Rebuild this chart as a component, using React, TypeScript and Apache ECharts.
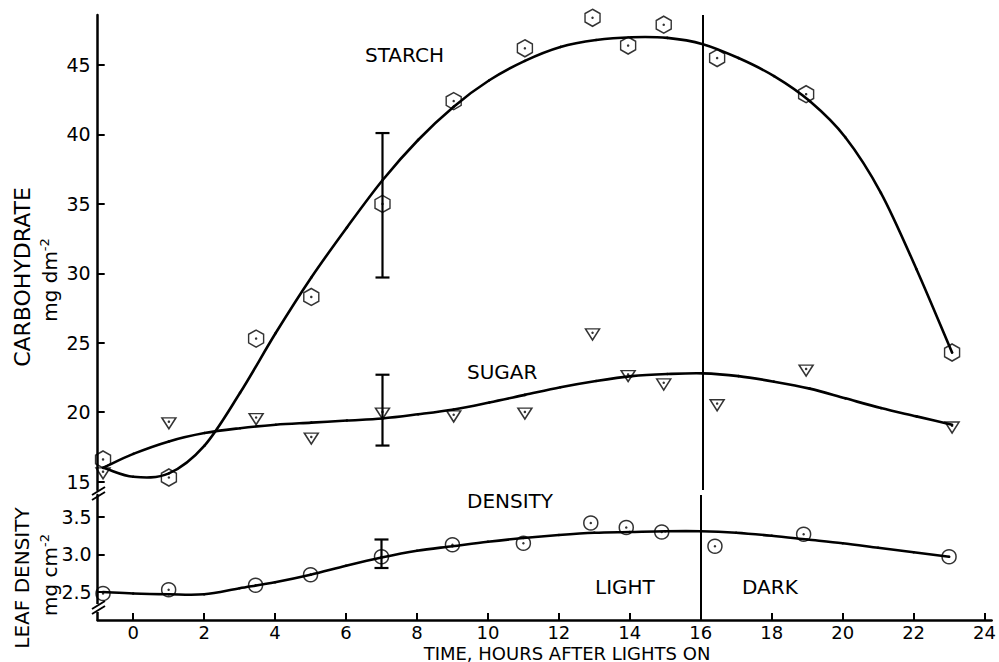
import React, { useEffect, useRef } from "react";
import * as echarts from "echarts";

// ---- data ----
const times = [-0.85, 1, 3.45, 5, 7, 9, 11, 12.9, 13.9, 14.9, 16.4, 18.9, 23];
const starch = [16.6, 15.3, 25.3, 28.3, 35.0, 42.4, 46.2, 48.4, 46.4, 47.9, 45.5, 42.9, 24.3];
const sugar = [15.6, 19.2, 19.5, 18.1, 19.9, 19.7, 19.9, 25.6, 22.6, 22.0, 20.5, 23.0, 18.9];
const density = [2.48, 2.53, 2.59, 2.73, 2.97, 3.13, 3.15, 3.42, 3.36, 3.3, 3.11, 3.27, 2.97];

// fitted curves (hourly)
const curveTimes = [-0.85, 0, 1, 2, 3, 4, 5, 6, 7, 8, 9, 10, 11, 12, 13, 14, 15, 16, 17, 18, 19, 20, 21, 22, 23];
const starchCurve = [16.0, 15.35, 15.6, 17.6, 21.4, 25.7, 29.7, 33.3, 36.7, 39.6, 42.0, 43.9, 45.3, 46.3, 46.8, 47.0, 46.95, 46.5, 45.5, 44.2, 42.4, 39.8, 35.8, 30.3, 24.3];
const sugarCurve = [16.0, 17.0, 17.9, 18.5, 18.85, 19.1, 19.25, 19.4, 19.55, 19.85, 20.2, 20.7, 21.25, 21.8, 22.25, 22.6, 22.75, 22.8, 22.6, 22.2, 21.7, 21.0, 20.3, 19.7, 19.1];
const densityCurve = [2.5, 2.48, 2.47, 2.47, 2.55, 2.63, 2.73, 2.85, 2.96, 3.05, 3.11, 3.17, 3.22, 3.26, 3.29, 3.3, 3.31, 3.31, 3.29, 3.25, 3.2, 3.15, 3.09, 3.03, 2.97];

// error bars: [time, low, high]
const carbErrors = [
  [7, 29.7, 40.1],
  [7, 17.6, 22.7],
];
const densityErrors = [[7, 2.82, 3.2]];

const lightsOff = 16;

const xTicks = [0, 2, 4, 6, 8, 10, 12, 14, 16, 18, 20, 22, 24];
const carbTicks = [15, 20, 25, 30, 35, 40, 45];
const densityTicks = [2.5, 3.0, 3.5];

const FONT = "DejaVu Sans";

const zip = (xs: number[], ys: number[]) => xs.map((x, i) => [x, ys[i]]);

const HEX = "path://M0,-1 L0.866,-0.5 L0.866,0.5 L0,1 L-0.866,0.5 L-0.866,-0.5 Z";
const TRI = "path://M0,0 L10,0 L5,8 Z";

export default function App() {
  const ref = useRef<HTMLDivElement>(null);

  useEffect(() => {
    document.body.style.margin = "0";
    if (!ref.current) return;
    const chart = echarts.init(ref.current, null, { renderer: "svg" });

    const axisLineStyle = { color: "#000", width: 2.5 };
    const labelStyle = { color: "#000", fontSize: 19, fontFamily: FONT };

    const errRender = (params: any, api: any) => {
      const x = api.value(0);
      const lo = api.value(1);
      const hi = api.value(2);
      const p1 = api.coord([x, hi]);
      const p2 = api.coord([x, lo]);
      const w = 7;
      const st = { stroke: "#000", lineWidth: 2.2 };
      return {
        type: "group",
        children: [
          { type: "line", shape: { x1: p1[0], y1: p1[1], x2: p2[0], y2: p2[1] }, style: st },
          { type: "line", shape: { x1: p1[0] - w, y1: p1[1], x2: p1[0] + w, y2: p1[1] }, style: st },
          { type: "line", shape: { x1: p2[0] - w, y1: p2[1], x2: p2[0] + w, y2: p2[1] }, style: st },
        ],
      };
    };

    const vline = {
      silent: true,
      symbol: "none",
      label: { show: false },
      lineStyle: { color: "#000", width: 2, type: "solid" },
      data: [{ xAxis: lightsOff }],
    };

    const markerStyle = { color: "transparent", borderColor: "#000", borderWidth: 1.5 };
    const dot = (data: number[][], xi: number, yi: number) => ({
      type: "scatter",
      xAxisIndex: xi,
      yAxisIndex: yi,
      data,
      symbol: "circle",
      symbolSize: 2.5,
      itemStyle: { color: "#000" },
      z: 6,
    });

    const starchPts = zip(times, starch);
    const sugarPts = zip(times, sugar);
    const densityPts = zip(times, density);

    const txt = (text: string, x: number, y: number, align = "left", extra: any = {}, size = 20) => ({
      type: "text",
      x,
      y,
      ...extra,
      style: {
        text,
        fill: "#000",
        fontSize: size,
        fontFamily: FONT,
        textAlign: align,
        textVerticalAlign: "middle",
      },
    });

    const rich = {
      a: { fontSize: 20, fontFamily: FONT, fill: "#000", lineHeight: 24 },
      s: { fontSize: 13, fontFamily: FONT, fill: "#000", verticalAlign: "top", lineHeight: 24 },
    };

    // smooth curve through knots drawn as Catmull-Rom Bezier segments in pixel space
    const curve = (ys: number[], xi: number, yi: number) => {
      const pts = zip(curveTimes, ys);
      return {
        type: "custom",
        xAxisIndex: xi,
        yAxisIndex: yi,
        data: pts,
        encode: { x: 0, y: 1 },
        z: 3,
        renderItem: (params: any, api: any) => {
          const i = params.dataIndex;
          const n = pts.length;
          if (i >= n - 1) return null;
          const P = (k: number) => api.coord(pts[Math.max(0, Math.min(n - 1, k))]);
          const p0 = P(i - 1), p1 = P(i), p2 = P(i + 1), p3 = P(i + 2);
          const m1 = i === 0 ? [p2[0] - p1[0], p2[1] - p1[1]] : [(p2[0] - p0[0]) / 2, (p2[1] - p0[1]) / 2];
          const m2 = i + 1 === n - 1 ? [p2[0] - p1[0], p2[1] - p1[1]] : [(p3[0] - p1[0]) / 2, (p3[1] - p1[1]) / 2];
          return {
            type: "bezierCurve",
            shape: {
              x1: p1[0], y1: p1[1],
              x2: p2[0], y2: p2[1],
              cpx1: p1[0] + m1[0] / 3, cpy1: p1[1] + m1[1] / 3,
              cpx2: p2[0] - m2[0] / 3, cpy2: p2[1] - m2[1] / 3,
            },
            style: { stroke: "#000", lineWidth: 2.6, fill: "none", lineCap: "round" },
          };
        },
      };
    };

    chart.setOption({
      animation: false,
      backgroundColor: "#fff",
      grid: [
        { left: 97.7, right: 4.2, top: 15, height: 475 },
        { left: 97.7, right: 4.2, top: 495, height: 125 },
      ],
      xAxis: [
        { gridIndex: 0, type: "value", min: -1, max: 24.2, show: false },
        {
          gridIndex: 1,
          type: "value",
          min: -1,
          max: 24.2,
          axisLine: { show: true, onZero: false, lineStyle: axisLineStyle },
          axisTick: { show: true, inside: true, length: 7, customValues: xTicks, lineStyle: { color: "#000", width: 2 } },
          axisLabel: { customValues: xTicks, margin: 3, ...labelStyle, fontSize: 18 },
          splitLine: { show: false },
        },
      ],
      yAxis: [
        {
          gridIndex: 0,
          type: "value",
          min: 14.4,
          max: 48.6,
          axisLine: { show: true, onZero: false, lineStyle: axisLineStyle },
          axisTick: { show: true, inside: true, length: 7, customValues: carbTicks, lineStyle: { color: "#000", width: 2 } },
          axisLabel: { customValues: carbTicks, margin: 7, ...labelStyle },
          splitLine: { show: false },
        },
        {
          gridIndex: 1,
          type: "value",
          min: 2.127,
          max: 3.793,
          axisLine: { show: true, onZero: false, lineStyle: axisLineStyle },
          axisTick: { show: true, inside: true, length: 7, customValues: densityTicks, lineStyle: { color: "#000", width: 2 } },
          axisLabel: { customValues: densityTicks, margin: 6, formatter: (v: number) => v.toFixed(1), ...labelStyle },
          splitLine: { show: false },
        },
      ],
      series: [
        curve(starchCurve, 0, 0),
        curve(sugarCurve, 0, 0),
        curve(densityCurve, 1, 1),
        {
          type: "scatter",
          name: "starch",
          xAxisIndex: 0,
          yAxisIndex: 0,
          data: starchPts,
          symbol: HEX,
          symbolSize: [15, 17],
          itemStyle: markerStyle,
          markLine: vline,
          z: 5,
        },
        {
          type: "scatter",
          name: "sugar",
          xAxisIndex: 0,
          yAxisIndex: 0,
          data: sugarPts,
          symbol: TRI,
          symbolSize: [14, 11],
          itemStyle: markerStyle,
          z: 5,
        },
        {
          type: "scatter",
          name: "density",
          xAxisIndex: 1,
          yAxisIndex: 1,
          data: densityPts,
          symbol: "circle",
          symbolSize: 14,
          itemStyle: markerStyle,
          markLine: vline,
          z: 5,
        },
        dot(starchPts, 0, 0),
        dot(sugarPts.map((p) => [p[0], p[1] + 0.12]), 0, 0),
        dot(densityPts, 1, 1),
        {
          type: "custom",
          xAxisIndex: 0,
          yAxisIndex: 0,
          data: carbErrors,
          encode: { x: 0, y: [1, 2] },
          renderItem: errRender,
          z: 4,
        },
        {
          type: "custom",
          xAxisIndex: 1,
          yAxisIndex: 1,
          data: densityErrors,
          encode: { x: 0, y: [1, 2] },
          renderItem: errRender,
          z: 4,
        },
      ],
      graphic: [
        txt("STARCH", 365, 55),
        txt("SUGAR", 467, 372),
        txt("DENSITY", 467, 501),
        txt("LIGHT", 595, 587),
        txt("DARK", 742, 587),
        txt("TIME, HOURS AFTER LIGHTS ON", 567, 653, "center", {}, 18),
        txt("CARBOHYDRATE", 22, 277, "center", { rotation: Math.PI / 2 }, 22),
        txt("LEAF DENSITY", 22, 578, "center", { rotation: Math.PI / 2 }),
        {
          type: "text",
          x: 50,
          y: 280,
          rotation: Math.PI / 2,
          style: { text: "{a|mg dm}{s|-2}", rich, textAlign: "center", textVerticalAlign: "middle" },
        },
        {
          type: "text",
          x: 50,
          y: 575,
          rotation: Math.PI / 2,
          style: { text: "{a|mg cm}{s|-2}", rich, textAlign: "center", textVerticalAlign: "middle" },
        },
        // axis break marks
        { type: "rect", shape: { x: 93, y: 604, width: 12, height: 8 }, style: { fill: "#fff" }, z: 10 },
        { type: "line", shape: { x1: 92, y1: 495, x2: 105, y2: 487 }, style: { stroke: "#000", lineWidth: 2 }, z: 11 },
        { type: "line", shape: { x1: 92, y1: 500, x2: 105, y2: 492 }, style: { stroke: "#000", lineWidth: 2 }, z: 11 },
        { type: "line", shape: { x1: 92, y1: 609, x2: 105, y2: 601 }, style: { stroke: "#000", lineWidth: 2 }, z: 11 },
        { type: "line", shape: { x1: 92, y1: 614, x2: 105, y2: 606 }, style: { stroke: "#000", lineWidth: 2 }, z: 11 },
      ],
    });

    return () => chart.dispose();
  }, []);

  return <div ref={ref} style={{ width: 999, height: 662 }} />;
}
